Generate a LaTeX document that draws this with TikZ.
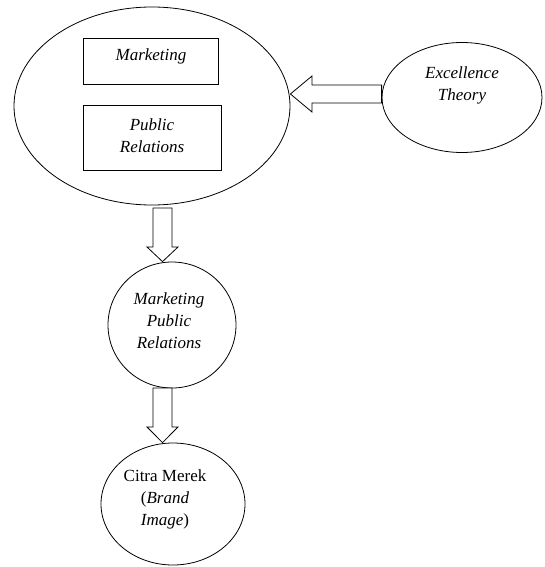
\documentclass[tikz,border=0pt]{standalone}
\usepackage{fontspec}
\setmainfont{Liberation Serif}
\usetikzlibrary{shapes.geometric}
\begin{document}
\begin{tikzpicture}[x=1pt,y=-1pt,
  line width=0.8pt,
  oval/.style={draw, ellipse, inner sep=0pt},
  boxnode/.style={draw, rectangle, inner sep=0pt},
  lbl/.style={align=center, font=\fontsize{17}{22}\selectfont\itshape, inner sep=0pt},
  blockarrow/.style={draw, fill=white, line join=miter}]
\useasboundingbox (0,0) rectangle (544,567);
% big ellipse
\node[oval, minimum width=276pt, minimum height=198pt] (big) at (152,106) {};
\node[boxnode, minimum width=135pt, minimum height=46pt] (mkt) at (150.5,61) {};
\node[lbl] (mkttxt) at (151,56) {Marketing};
\node[boxnode, minimum width=138pt, minimum height=65pt] (pr) at (152,137.5) {};
\node[lbl] (prtxt) at (152,136) {Public\\Relations};
% excellence
\node[oval, minimum width=160pt, minimum height=110pt] (exc) at (462,97.5) {};
\node[lbl] (exctxt) at (462,85) {Excellence\\Theory};
% marketing public relations
\node[oval, minimum width=128pt, minimum height=126pt] (mpr) at (172,325) {};
\node[lbl] (mprtxt) at (169,321) {Marketing\\Public\\Relations};
% citra merek
\node[oval, minimum width=144pt, minimum height=122pt] (cm) at (173,504) {};
\node[align=center, font=\fontsize{17}{22}\selectfont, inner sep=0pt] (cmtxt) at (165,499) {Citra Merek\\(\textit{Brand}\\\textit{Image})};
% block arrows
\draw[blockarrow] (exc.west |- 0,85) -- (312,85) -- (312,76) -- (big.east |- 0,94) -- (312,112) -- (312,103) -- (exc.west |- 0,103) -- cycle;
\draw[blockarrow] (153,208) -- (172,208) -- (172,247) -- (178,247) -- (mpr.north -| 162.5,0) -- (147,247) -- (153,247) -- cycle;
\draw[blockarrow] (153,388) -- (172,388) -- (172,427) -- (178,427) -- (cm.north -| 162.5,0) -- (147,427) -- (153,427) -- cycle;
\end{tikzpicture}
\end{document}
